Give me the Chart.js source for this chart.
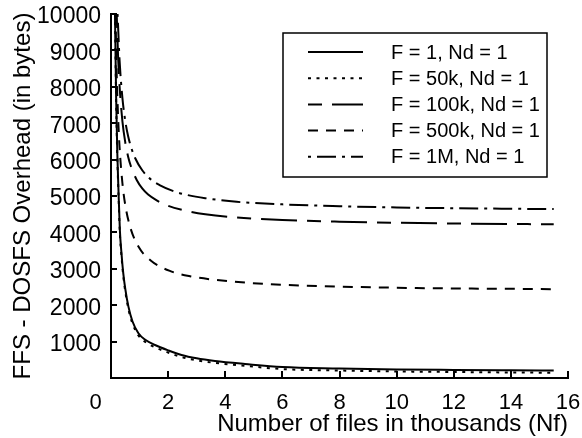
<!DOCTYPE html>
<html><head><meta charset="utf-8">
<script src="https://cdn.jsdelivr.net/npm/chart.js@4.4.0/dist/chart.umd.min.js"></script>
<style>html,body{margin:0;padding:0;background:#fff}#wrap{width:582px;height:438px}</style>
</head><body><div id="wrap"><canvas id="c" width="582" height="438"></canvas></div>
<script>
const seriesLabels = ['F = 1, Nd = 1', 'F = 50k, Nd = 1', 'F = 100k, Nd = 1', 'F = 500k, Nd = 1', 'F = 1M, Nd = 1'];

const xF1 = [0.14, 0.18, 0.22, 0.26, 0.31, 0.37, 0.43, 0.5, 0.61, 0.75, 0.96, 1.2, 1.54, 2, 2.47, 3, 3.64, 4.69, 6, 8, 10, 12, 14, 15.5];
const yF1 = [10000, 7700, 6200, 5200, 4070, 3400, 2875, 2450, 1960, 1560, 1230, 1050, 907, 760, 632, 540, 467, 385, 300, 262, 235, 222, 212, 205];

const xF50k = [0.14, 0.18, 0.22, 0.26, 0.31, 0.37, 0.43, 0.5, 0.61, 0.75, 0.96, 1.2, 1.54, 2, 2.47, 3, 3.64, 4.69, 6, 8, 10, 12, 14, 15.5];
const yF50k = [10000, 7600, 6100, 5100, 3980, 3320, 2800, 2380, 1890, 1500, 1170, 990, 845, 700, 575, 485, 415, 335, 245, 205, 180, 165, 152, 145];

const xF100k = [0.2, 0.25, 0.3, 0.4, 0.5, 0.6, 0.7, 0.9, 1.1, 1.3, 1.6, 1.9, 2.6, 3.3, 4.4, 6, 8, 10, 12, 14, 15.5];
const yF100k = [10000, 8790, 8020, 7050, 6470, 6080, 5810, 5440, 5200, 5040, 4880, 4760, 4600, 4500, 4410, 4340, 4295, 4265, 4245, 4230, 4225];

const xF500k = [0.156, 0.2, 0.25, 0.3, 0.4, 0.5, 0.67, 0.96, 1.4, 2.1, 2.8, 3.6, 4.7, 6, 8, 10, 12, 14, 15.5];
const yF500k = [10000, 8330, 7140, 6340, 5350, 4750, 4150, 3610, 3220, 2930, 2790, 2700, 2620, 2560, 2510, 2480, 2460, 2450, 2440];

const xF1M = [0.23, 0.3, 0.4, 0.5, 0.6, 0.7, 0.84, 1.1, 1.4, 1.7, 2.2, 2.6, 3.3, 4.4, 6, 8, 10, 12, 14, 15.5];
const yF1M = [10000, 8730, 7690, 7060, 6640, 6350, 6050, 5700, 5450, 5300, 5130, 5040, 4940, 4840, 4770, 4720, 4685, 4665, 4650, 4640];

const xTicks = [0, 2, 4, 6, 8, 10, 12, 14, 16];
const yTicks = [1000, 2000, 3000, 4000, 5000, 6000, 7000, 8000, 9000, 10000];

const FONT = '"Liberation Sans", Arial, Helvetica, sans-serif';
const pts = (xs, ys) => xs.map((x, i) => ({x: x, y: ys[i]}));
const dashes = [[], [3, 5.5], [14, 10, 36, 10], [10, 8], [3, 6, 19, 6]];
const allX = [xF1, xF50k, xF100k, xF500k, xF1M];
const allY = [yF1, yF50k, yF100k, yF500k, yF1M];

const datasets = seriesLabels.map((lab, i) => ({
  label: lab,
  data: pts(allX[i], allY[i]),
  borderColor: '#000',
  borderWidth: 2,
  borderDash: dashes[i],
  borderCapStyle: 'butt',
  pointRadius: 0,
  fill: false,
  cubicInterpolationMode: 'monotone'
}));

const decor = {
  id: 'decor',
  afterDraw(chart) {
    const ctx = chart.ctx;
    const xs = chart.scales.x, ys = chart.scales.y;
    const area = chart.chartArea;
    ctx.save();
    ctx.strokeStyle = '#000';
    ctx.lineWidth = 2;
    ctx.setLineDash([]);
    xTicks.forEach(v => {
      if (v === 0) return;
      const px = Math.round(xs.getPixelForValue(v));
      ctx.beginPath(); ctx.moveTo(px, area.bottom); ctx.lineTo(px, area.bottom - 7); ctx.stroke();
    });
    yTicks.forEach(v => {
      const py = Math.round(ys.getPixelForValue(v));
      ctx.beginPath(); ctx.moveTo(area.left, py); ctx.lineTo(area.left + 6, py); ctx.stroke();
    });
    const bx = 283, by = 33, bw = 264, bh = 144;
    ctx.fillStyle = '#fff';
    ctx.fillRect(bx, by, bw, bh);
    ctx.lineWidth = 1.5;
    ctx.strokeRect(bx, by, bw, bh);
    ctx.font = '20px ' + FONT;
    ctx.textBaseline = 'middle';
    ctx.textAlign = 'left';
    ctx.fillStyle = '#000';
    chart.data.datasets.forEach((ds, i) => {
      const cy = 52 + i * 26.2;
      ctx.lineWidth = 2;
      ctx.setLineDash(ds.borderDash || []);
      ctx.beginPath(); ctx.moveTo(308, cy); ctx.lineTo(363, cy); ctx.stroke();
      ctx.setLineDash([]);
      ctx.fillText(ds.label, 391, cy + 1);
    });
    ctx.restore();
  }
};

new Chart(document.getElementById('c'), {
  type: 'line',
  data: {datasets: datasets},
  options: {
    responsive: false,
    animation: false,
    devicePixelRatio: 1,
    layout: {padding: {top: 0, right: 0, left: 0, bottom: 0}},
    plugins: {legend: {display: false}, tooltip: {enabled: false}},
    scales: {
      x: {
        type: 'linear', min: 0, max: 16,
        afterFit(s) { s.height = 60; s.paddingRight = 14; s.paddingLeft = 0; },
        afterBuildTicks(s) { s.ticks = xTicks.map(v => ({value: v})); },
        ticks: {
          callback: v => v === 0 ? '0     ' : String(v),
          font: {family: FONT, size: 22}, color: '#000', padding: 12,
          maxRotation: 0, autoSkip: false
        },
        grid: {display: true, drawOnChartArea: false, drawTicks: false},
        border: {display: true, color: '#000', width: 2},
        title: {display: true, text: 'Number of files in thousands (Nf)', align: 'end',
          font: {family: FONT, size: 24, lineHeight: 1.1}, color: '#000', padding: {top: 0, bottom: 0}}
      },
      y: {
        type: 'linear', min: 0, max: 10000,
        afterFit(s) { s.width = 111; s.paddingTop = 14; s.paddingBottom = 0; },
        afterBuildTicks(s) { s.ticks = yTicks.map(v => ({value: v})); },
        ticks: {callback: v => String(v), font: {family: FONT, size: 23}, color: '#000', padding: 10, labelOffset: 3, autoSkip: false},
        grid: {display: true, drawOnChartArea: false, drawTicks: false},
        border: {display: true, color: '#000', width: 2},
        title: {display: true, text: 'FFS - DOSFS Overhead (in bytes)',
          font: {family: FONT, size: 24}, color: '#000', padding: {top: 9, bottom: 0}}
      }
    }
  },
  plugins: [decor]
});
</script></body></html>
